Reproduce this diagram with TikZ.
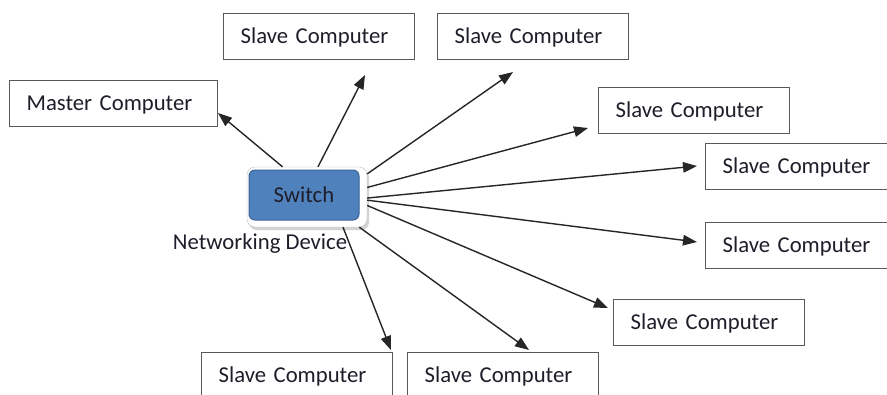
\documentclass[tikz,border=0pt]{standalone}
\usepackage{fontspec}
\setmainfont{Carlito}
\usetikzlibrary{arrows.meta,shadows}
\definecolor{boxgray}{HTML}{595959}
\definecolor{txt}{HTML}{1E1E2A}
\definecolor{swblue}{HTML}{4F81BD}
\definecolor{swedge}{HTML}{3A639A}
\begin{document}
\begin{tikzpicture}[x=1pt,y=-1pt,
  comp/.style={draw=boxgray, line width=1.3pt, fill=white, anchor=north west,
    minimum height=46pt, text width=157pt, inner xsep=17pt, inner ysep=0pt,
    text height=16pt, text depth=3pt,
    align=left, text=txt, font=\fontsize{22.7}{27}\selectfont},
  link/.style={draw=black!85, line width=1.4pt, -{Triangle[length=14pt,width=10.5pt]}}]
\useasboundingbox (0,0) rectangle (887,394);
\clip (0,0) rectangle (887,394);
\fill[white] (0,0) rectangle (887,394);
% computers
\node[comp, text width=174pt] (master) at (9,80) {Master Computer};
\node[comp] (s1) at (223,13) {Slave Computer};
\node[comp] (s2) at (437,13) {Slave Computer};
\node[comp] (s3) at (598,87) {Slave Computer};
\node[comp] (s4) at (705,143) {Slave Computer};
\node[comp] (s5) at (705,222) {Slave Computer};
\node[comp] (s6) at (613,299) {Slave Computer};
\node[comp] (s7) at (201,352) {Slave Computer};
\node[comp] (s8) at (407,352) {Slave Computer};
% switch
\node[draw=black!25, fill=white, rounded corners=8pt, minimum width=120pt, minimum height=60pt,
  drop shadow={opacity=0.35, shadow xshift=2pt, shadow yshift=-3pt}] (swf) at (307,197) {};
\node[draw=swedge, fill=swblue, rounded corners=6pt, minimum width=110pt, minimum height=50pt,
  line width=1pt, text=txt, font=\fontsize{22.7}{27}\selectfont] (sw) at (304,195) {Switch};
\node[text=txt, font=\fontsize{22.7}{27}\selectfont, inner sep=0pt] (nd) at (260,244) {Networking Device};
% arrow tips
\coordinate (t0) at (218,113);
\coordinate (t1) at (365,75);
\coordinate (t2) at (513,72);
\coordinate (t3) at (588,128);
\coordinate (t4) at (697,166);
\coordinate (t5) at (697,242);
\coordinate (t6) at (608,308);
\coordinate (t7) at (391,350);
\coordinate (t8) at (529,350);
\draw[link] (swf.129) -- (t0);
\draw[link] (swf.70) -- (t1);
\draw[link] (swf.21) -- (t2);
\draw[link] (swf.9) -- (t3);
\draw[link] (swf.-1) -- (t4);
\draw[link] (swf.-3) -- (t5);
\draw[link] (swf.-8) -- (t6);
\draw[link] (swf.-40) -- (t7);
\draw[link] (swf.-30) -- (t8);
\end{tikzpicture}
\end{document}
